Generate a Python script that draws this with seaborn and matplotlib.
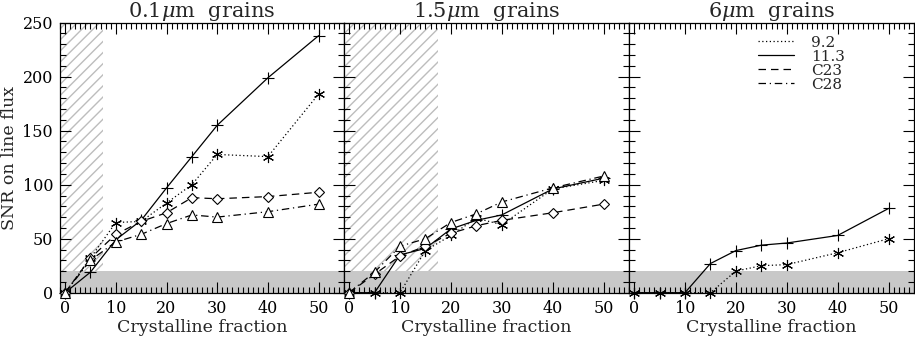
import matplotlib
matplotlib.use("Agg")
import matplotlib.pyplot as plt
import numpy as np
import pandas as pd
import seaborn as sns
from matplotlib.lines import Line2D
from matplotlib.ticker import MultipleLocator

# ---------------- data ----------------
frac = [0, 5, 10, 15, 20, 25, 30, 40, 50]

titles = ["0.1$\\mu$m  grains", "1.5$\\mu$m  grains", "6$\\mu$m  grains"]

# 0.1 micron grains
p1_92 = [0, 32, 65, 66, 83, 100, 128, 126, 184]
p1_113 = [0, 19, 49, 67, 97, 126, 155, 199, 238]
p1_c23 = [0, 32, 54, 66, 74, 88, 87, 89, 93]
p1_c28 = [0, 30, 47, 54, 64, 72, 70, 75, 82]

# 1.5 micron grains
p2_92 = [0, 0, 0, 39, 53, 69, 63, 96, 104]
p2_113 = [0, 0, 35, 41, 59, 67, 72, 96, 106]
p2_c23 = [0, 17, 34, 43, 55, 62, 67, 74, 82]
p2_c28 = [0, 19, 43, 50, 65, 73, 84, 97, 108]

# 6 micron grains
p3_92 = [0, 0, 0, 0, 20, 25, 26, 37, 50]
p3_113 = [0, 0, 0, 27, 39, 44, 46, 53, 78]

legend_labels = ["9.2", "11.3", "C23", "C28"]

snr_limit = 20
hatch_limits = [7.5, 17.5, None]

# ---------------- style ----------------
sns.set_style("ticks")
plt.rcParams["font.family"] = ["DejaVu Serif"]
plt.rcParams["hatch.linewidth"] = 1.0
plt.rcParams["mathtext.fontset"] = "dejavuserif"

styles = {
    "9.2": dict(linestyle=(0, (1, 2)), marker=(6, 2, 0), ms=8, mew=0.8),
    "11.3": dict(linestyle="-", marker="+", ms=8, mew=0.8),
    "C23": dict(linestyle=(0, (6, 4)), marker="D", ms=5.5, mew=0.8, mfc="white"),
    "C28": dict(linestyle=(0, (6, 3, 1, 3)), marker="^", ms=7.5, mew=0.8, mfc="white"),
}

panels = [
    {"9.2": p1_92, "11.3": p1_113, "C23": p1_c23, "C28": p1_c28},
    {"9.2": p2_92, "11.3": p2_113, "C23": p2_c23, "C28": p2_c28},
    {"9.2": p3_92, "11.3": p3_113},
]

fig = plt.figure(figsize=(9.15, 3.39), dpi=100)
lefts = [60 / 915, 344 / 915, 629 / 915]
widths = [284 / 915, 285 / 915, 285 / 915]
bottom = (339 - 292.7) / 339
height = 270 / 339

for i, (panel, title) in enumerate(zip(panels, titles)):
    ax = fig.add_axes([lefts[i], bottom, widths[i], height])
    ax.set_xlim(-1, 55)
    ax.set_ylim(0, 250)
    ax.axhspan(0, snr_limit, color="#c8c8c8", zorder=0, lw=0)
    if hatch_limits[i] is not None:
        ax.fill_between([-1, hatch_limits[i]], snr_limit, 250, facecolor="none",
                        edgecolor="#bdbdbd", hatch="///", linewidth=0, zorder=0)
    for name, vals in panel.items():
        st = styles[name]
        sns.lineplot(x=frac, y=vals, ax=ax, color="black", lw=0.9,
                     linestyle=st["linestyle"], marker=st["marker"],
                     markersize=st["ms"], markeredgewidth=st["mew"],
                     markerfacecolor=st.get("mfc", "black"),
                     markeredgecolor="black", zorder=3, clip_on=False)
    ax.set_title(title, fontsize=15, pad=3)
    ax.set_xlabel("Crystalline fraction", fontsize=12.5, labelpad=1.5)
    ax.xaxis.set_major_locator(MultipleLocator(10))
    ax.xaxis.set_minor_locator(MultipleLocator(1))
    ax.yaxis.set_major_locator(MultipleLocator(50))
    ax.yaxis.set_minor_locator(MultipleLocator(10))
    ax.tick_params(which="both", direction="in", top=True, right=True,
                   width=0.8, labelsize=11.5, colors="black")
    ax.tick_params(which="major", length=8, pad=5)
    ax.tick_params(which="minor", length=4)
    for s in ax.spines.values():
        s.set_linewidth(0.9)
        s.set_color("black")
    if i == 0:
        ax.set_ylabel("SNR on line flux", fontsize=12.5, labelpad=3)
    else:
        ax.set_ylabel("")
        ax.set_yticklabels([])
    if i == 2:
        handles = [Line2D([], [], color="black", lw=0.9, linestyle=styles[n]["linestyle"])
                   for n in legend_labels]
        ax.legend(handles, legend_labels, loc="upper left", bbox_to_anchor=(0.43, 0.975),
                  frameon=False, fontsize=11, handlelength=2.4, handletextpad=1.1,
                  labelspacing=0.0, borderaxespad=0)

fig.savefig("out.png", dpi=100)
